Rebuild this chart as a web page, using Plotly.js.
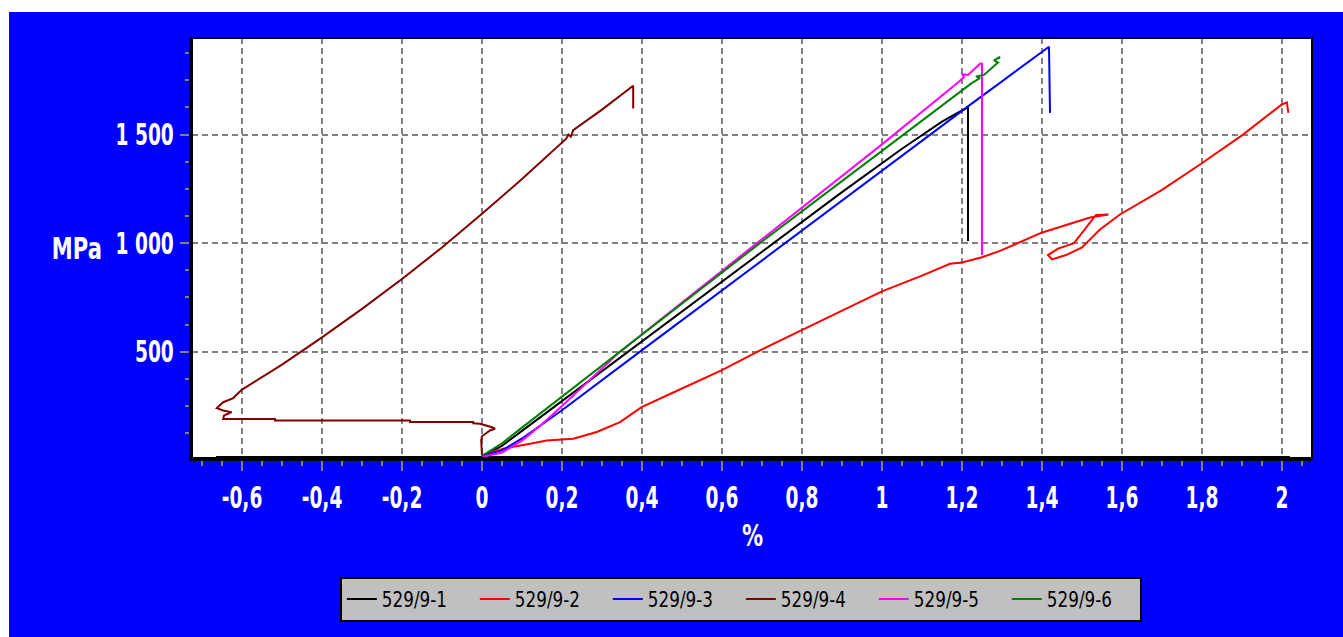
<!DOCTYPE html>
<html><head><meta charset="utf-8">
<script src="https://cdn.plot.ly/plotly-3.0.1.min.js"></script>
<style>
html,body{margin:0;padding:0;background:#fff;overflow:hidden;}
#chart{position:absolute;left:9px;top:12px;width:1334px;height:625px;}
</style></head><body><div id="chart"></div>
<script>
const seriesNames = ['529/9-1','529/9-2','529/9-3','529/9-4','529/9-5','529/9-6'];
const seriesColors = ['#000000','#FF0000','#0000FF','#800000','#FF00FF','#008000'];

const x1 = [0, 0.05, 0.1, 0.2, 0.365, 0.55, 0.7275, 0.9, 1.05, 1.15, 1.2, 1.215, 1.215];
const y1 = [20, 66, 135, 273, 500, 755, 1000, 1235, 1435, 1560, 1612, 1624, 1010];

const x2 = [0,0.053,0.12,0.162,0.228,0.287,0.345,0.399,0.47,0.6,0.7,0.8,0.9,1.0,1.1,1.17,1.2,1.25,1.295,1.399,1.52,1.566,1.535,1.51,1.48,1.44,1.415,1.425,1.46,1.5,1.545,1.595,1.7,1.795,1.9025,1.999,2.012,2.016];
const y2 = [22,53,76,91,99,130,175,244,305,415,510,600,690,778,850,905,911,935,964,1048,1118,1132,1130,1070,1000,975,945,925,945,980,1063,1132,1245,1362,1500,1638,1648,1600];

const x3 = [0, 0.05, 0.1, 0.2, 0.395, 0.5, 0.7575, 1.0, 1.215, 1.3, 1.4175, 1.42];
const y3 = [20, 45, 100, 230, 500, 645, 1000, 1335, 1630, 1745, 1905, 1600];

const x4 = [0,-0.002,0.0,0.02,0.0325,0.025,-0.005,-0.022,-0.022,-0.18,-0.18,-0.5175,-0.5175,-0.647,-0.645,-0.626,-0.647,-0.663,-0.647,-0.622,-0.6,-0.5,-0.4,-0.3,-0.2,-0.1,0.0,0.1,0.21,0.216,0.222,0.228,0.3,0.378,0.378];
const y4 = [22,91,110,137,145,152,168,170,176,176,183,183,190,190,206,221,229,240,267,286,325,440,566,697,835,980,1135,1295,1480,1500,1490,1520,1615,1725,1620];

const x5 = [0, 0.05, 0.1, 0.15, 0.2, 0.27, 0.345, 0.6875, 1.0, 1.19, 1.205, 1.2, 1.215, 1.245, 1.25, 1.25];
const y5 = [15, 35, 90, 165, 250, 370, 500, 1000, 1455, 1740, 1765, 1778, 1775, 1826, 1826, 945];

const x6 = [0, 0.05, 0.1, 0.2, 0.345, 0.695, 1.0, 1.2, 1.225, 1.245, 1.235, 1.255, 1.28, 1.29, 1.28, 1.295, 1.29];
const y6 = [20, 78, 150, 293, 500, 1000, 1425, 1705, 1738, 1760, 1768, 1775, 1815, 1832, 1842, 1858, 1848];

const baseX = [-0.665, 2.02];
const baseY = [12, 12];

const xTickVals = [-0.6,-0.4,-0.2,0,0.2,0.4,0.6,0.8,1,1.2,1.4,1.6,1.8,2];
const xTickText = ['-0,6','-0,4','-0,2','0','0,2','0,4','0,6','0,8','1','1,2','1,4','1,6','1,8','2'];
const yTickVals = [500,1000,1500];
const yTickText = ['500','1 000','1 500'];

const xs = [x1,x2,x3,x4,x5,x6];
const ys = [y1,y2,y3,y4,y5,y6];

const FONT = '"DejaVu Sans", sans-serif';

const traces = [{
  x: baseX, y: baseY, mode: 'lines', showlegend: false, hoverinfo: 'skip',
  line: {color: '#000000', width: 3}
}];
for (let i = 0; i < 6; i++) {
  traces.push({x: xs[i], y: ys[i], name: seriesNames[i], mode: 'lines',
    line: {color: seriesColors[i], width: 2}});
}

const axisCommon = {
  showgrid: true, gridcolor: '#808080', gridwidth: 2, griddash: '6px,4px',
  zeroline: false, showline: true, linecolor: '#000000', linewidth: 3,
  ticks: 'outside', tickcolor: '#808080', tickwidth: 2,
  tickfont: {family: FONT, size: 31, color: '#FFFFFF', weight: 'bold'},
  tickmode: 'array'
};

const layout = {
  width: 1334, height: 625,
  paper_bgcolor: '#0000FF', plot_bgcolor: '#FFFFFF',
  margin: {l: 183, r: 31, t: 26, b: 179},
  showlegend: true,
  xaxis: Object.assign({}, axisCommon, {
    range: [-0.725, 2.075], tickvals: xTickVals, ticktext: xTickText, ticklen: 10,
    minor: {tickmode: 'linear', tick0: 0, dtick: 0.05, ticks: 'outside', ticklen: 5, tickcolor: '#808080', tickwidth: 2, showgrid: false}
  }),
  yaxis: Object.assign({}, axisCommon, {
    range: [10, 1945], tickvals: yTickVals, ticktext: yTickText, ticklen: 9,
    minor: {tickmode: 'linear', tick0: 0, dtick: 125, ticks: 'outside', ticklen: 4, tickcolor: '#808080', tickwidth: 2, showgrid: false}
  }),
  legend: {
    orientation: 'h', x: 0.132, xanchor: 'left', y: -0.283, yanchor: 'top',
    bgcolor: '#C0C0C0', bordercolor: '#000000', borderwidth: 2,
    font: {family: FONT, size: 21, color: '#000000'},
    itemwidth: 30, entrywidth: 88, entrywidthmode: 'pixels', tracegroupgap: 0
  },
  shapes: [{type: 'rect', xref: 'paper', yref: 'paper', x0: 0, x1: 1, y0: 0, y1: 1,
    line: {color: '#000000', width: 2}, layer: 'above'}],
  annotations: [
    {text: 'MPa', xref: 'paper', yref: 'paper', x: -0.1027, y: 0.5, xanchor: 'center', yanchor: 'middle',
     showarrow: false, font: {family: FONT, size: 31, color: '#FFFFFF', weight: 'bold'}},
    {text: '%', xref: 'paper', yref: 'paper', x: 0.5, y: -0.183, xanchor: 'center', yanchor: 'middle',
     showarrow: false, font: {family: FONT, size: 31, color: '#FFFFFF', weight: 'bold'}}
  ]
};

function condense(sel, s) {
  document.querySelectorAll('#chart ' + sel).forEach(t => {
    const cur = t.getAttribute('transform') || '';
    if (t.__done === cur && cur !== '') return;
    const x = parseFloat(t.getAttribute('x') || '0') || 0;
    const nt = cur + ' translate(' + x + ',0) scale(' + s + ',1) translate(' + (-x) + ',0)';
    t.setAttribute('transform', nt);
    t.__done = nt;
  });
}
function applyCondense() {
  condense('.xtick text', 0.6);
  condense('.ytick text', 0.6);
  condense('.annotation-text', 0.68);
  condense('.legendtext', 0.8);
}

const gd = document.getElementById('chart');
Plotly.newPlot(gd, traces, layout, {displayModeBar: false, staticPlot: true}).then(() => {
  applyCondense();
  gd.on('plotly_afterplot', applyCondense);
});
</script></body></html>
